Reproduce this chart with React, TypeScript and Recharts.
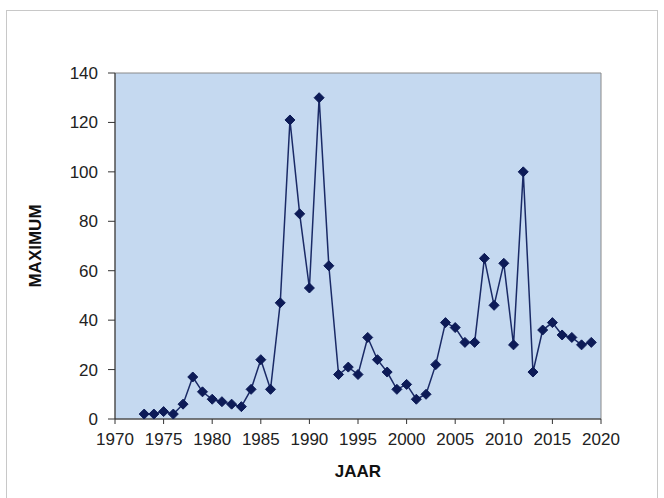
import { LineChart, Line, XAxis, YAxis, ReferenceArea } from 'recharts';

const years = [
  1973, 1974, 1975, 1976, 1977, 1978, 1979, 1980, 1981, 1982, 1983, 1984, 1985, 1986, 1987, 1988,
  1989, 1990, 1991, 1992, 1993, 1994, 1995, 1996, 1997, 1998, 1999, 2000, 2001, 2002, 2003, 2004,
  2005, 2006, 2007, 2008, 2009, 2010, 2011, 2012, 2013, 2014, 2015, 2016, 2017, 2018, 2019,
];
const maximum = [
  2, 2, 3, 2, 6, 17, 11, 8, 7, 6, 5, 12, 24, 12, 47, 121,
  83, 53, 130, 62, 18, 21, 18, 33, 24, 19, 12, 14, 8, 10, 22, 39,
  37, 31, 31, 65, 46, 63, 30, 100, 19, 36, 39, 34, 33, 30, 31,
];
const xTicks = [1970, 1975, 1980, 1985, 1990, 1995, 2000, 2005, 2010, 2015, 2020];
const yTicks = [0, 20, 40, 60, 80, 100, 120, 140];

const data = years.map((jaar, i) => ({ jaar, max: maximum[i] }));

const NAVY = '#0d1b57';
const FONT = 'Liberation Sans, Arial, sans-serif';

// diamond marker, centred on the point recharts gives us
const Diamond = (props: any) => {
  const { cx, cy } = props;
  if (cx == null || cy == null) return null;
  const r = 5;
  return (
    <path
      d={`M${cx},${cy - r}L${cx + r},${cy}L${cx},${cy + r}L${cx - r},${cy}Z`}
      fill={NAVY}
      stroke={NAVY}
      strokeWidth={1}
    />
  );
};

const tickStyle = { fontSize: 17, fill: '#222', fontFamily: FONT };
const titleStyle = { fontSize: 17, fontWeight: 'bold', fill: '#111', fontFamily: FONT };

export default function App() {
  return (
    <div style={{ position: 'absolute', left: 0, top: 0, width: 664, height: 498, background: '#fff', overflow: 'hidden' }}>
      {/* light frame around the picture */}
      <div style={{ position: 'absolute', left: 6, top: 10, width: 650, height: 500, border: '1px solid #c8c8c8' }} />
      <div style={{ position: 'absolute', left: 0, top: 0 }}>
        <LineChart width={664} height={498} data={data} margin={{ top: 73, right: 63, bottom: 29, left: 55 }}>
          <ReferenceArea
            x1={1970}
            x2={2020}
            y1={0}
            y2={140}
            fill="#c5d9f0"
            fillOpacity={1}
            stroke="#8a8a8a"
            strokeWidth={1}
            ifOverflow="visible"
          />
          <XAxis
            dataKey="jaar"
            type="number"
            domain={[1970, 2020]}
            ticks={xTicks}
            height={50}
            tick={tickStyle}
            tickSize={5}
            tickMargin={9}
            stroke="#333"
            label={{ value: 'JAAR', position: 'insideBottom', offset: -8, style: titleStyle }}
          />
          <YAxis
            type="number"
            domain={[0, 140]}
            ticks={yTicks}
            width={60}
            tick={tickStyle}
            tickSize={7}
            tickMargin={10}
            stroke="#333"
            label={{
              value: 'MAXIMUM',
              angle: -90,
              position: 'insideLeft',
              offset: -20,
              style: { ...titleStyle, textAnchor: 'middle' },
            }}
          />
          <Line
            type="linear"
            dataKey="max"
            stroke="#1a2a66"
            strokeWidth={1.5}
            dot={<Diamond />}
            activeDot={false}
            isAnimationActive={false}
          />
        </LineChart>
      </div>
    </div>
  );
}
